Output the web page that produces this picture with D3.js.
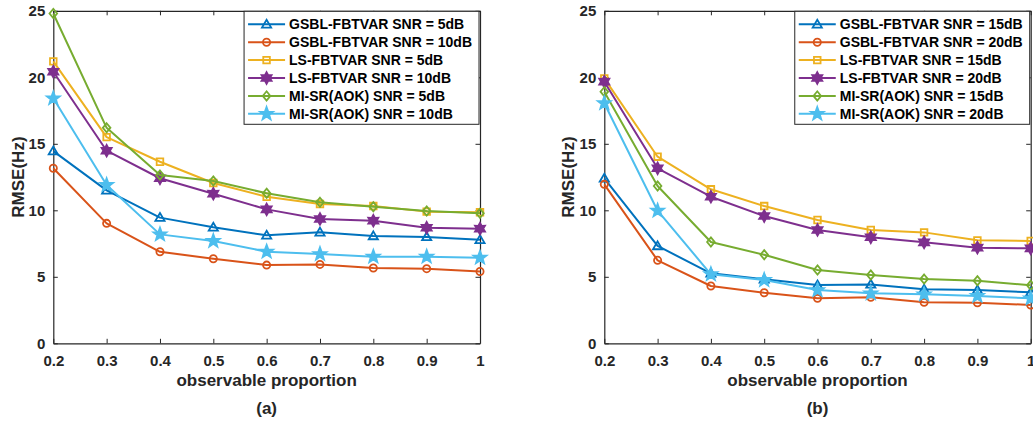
<!DOCTYPE html>
<html>
<head>
<meta charset="utf-8">
<script src="https://cdn.jsdelivr.net/npm/d3@7"></script>
<style>
  html, body { margin: 0; padding: 0; background: #fff; }
  svg { display: block; font-family: "Liberation Sans", Arial, Helvetica, sans-serif; font-weight: bold; }
</style>
</head>
<body>
<svg id="chart" width="1033" height="426"></svg>
<script>
// Observable proportion (x axis) and axis tick labels
const proportion = [0.2, 0.3, 0.4, 0.5, 0.6, 0.7, 0.8, 0.9, 1.0];
const xTickLabels = ["0.2", "0.3", "0.4", "0.5", "0.6", "0.7", "0.8", "0.9", "1"];
const yTickValues = [0, 5, 10, 15, 20, 25];

// Panel (a): low SNR
const namesA = [
  "GSBL-FBTVAR SNR = 5dB", "GSBL-FBTVAR SNR = 10dB",
  "LS-FBTVAR SNR = 5dB", "LS-FBTVAR SNR = 10dB",
  "MI-SR(AOK) SNR = 5dB", "MI-SR(AOK) SNR = 10dB"
];
const gsbl5  = [14.45, 11.5, 9.45, 8.72, 8.12, 8.35, 8.07, 8.0, 7.78];
const gsbl10 = [13.16, 9.02, 6.88, 6.36, 5.88, 5.93, 5.66, 5.61, 5.40];
const ls5    = [21.2, 15.5, 13.65, 12.05, 11.02, 10.47, 10.32, 9.9, 9.85];
const ls10   = [20.42, 14.48, 12.41, 11.25, 10.07, 9.35, 9.22, 8.69, 8.62];
const mi5    = [24.8, 16.2, 12.65, 12.2, 11.28, 10.6, 10.27, 9.95, 9.77];
const mi10   = [18.42, 11.9, 8.19, 7.69, 6.89, 6.71, 6.51, 6.51, 6.44];

// Panel (b): high SNR
const namesB = [
  "GSBL-FBTVAR SNR = 15dB", "GSBL-FBTVAR SNR = 20dB",
  "LS-FBTVAR SNR = 15dB", "LS-FBTVAR SNR = 20dB",
  "MI-SR(AOK) SNR = 15dB", "MI-SR(AOK) SNR = 20dB"
];
const gsbl15 = [12.4, 7.32, 5.26, 4.81, 4.38, 4.43, 4.06, 4.0, 3.83];
const gsbl20 = [11.95, 6.24, 4.31, 3.8, 3.38, 3.46, 3.08, 3.05, 2.88];
const ls15   = [19.92, 14.03, 11.58, 10.32, 9.27, 8.52, 8.34, 7.74, 7.69];
const ls20   = [19.67, 13.16, 11.02, 9.57, 8.52, 7.97, 7.59, 7.19, 7.14];
const mi15   = [18.92, 11.83, 7.62, 6.66, 5.51, 5.14, 4.83, 4.71, 4.36];
const mi20   = [18.05, 9.97, 5.19, 4.76, 4.0, 3.76, 3.68, 3.56, 3.38];

const colors = ["#0072BD", "#D95319", "#EDB120", "#7E2F8E", "#77AC30", "#4DBEEE"];
const markers = ["triangle", "circle", "square", "hexagram", "diamond", "pentagram"];
const ink = "#262626";

// Marker shapes as d3 symbol types (fixed pixel size)
function starType(points, outer, inner) {
  return {
    draw(ctx) {
      for (let i = 0; i < points * 2; i++) {
        const r = i % 2 === 0 ? outer : inner;
        const a = -Math.PI / 2 + i * Math.PI / points;
        const x = r * Math.cos(a), y = r * Math.sin(a);
        if (i === 0) ctx.moveTo(x, y); else ctx.lineTo(x, y);
      }
      ctx.closePath();
    }
  };
}
const symbolTypes = {
  triangle: { draw(ctx) { ctx.moveTo(0, -4.6); ctx.lineTo(4.6, 3.3); ctx.lineTo(-4.6, 3.3); ctx.closePath(); } },
  circle: { draw(ctx) { ctx.moveTo(3.6, 0); ctx.arc(0, 0, 3.6, 0, 2 * Math.PI); } },
  square: { draw(ctx) { ctx.rect(-3.3, -3.3, 6.6, 6.6); } },
  diamond: { draw(ctx) { ctx.moveTo(0, -4.6); ctx.lineTo(3.8, 0); ctx.lineTo(0, 4.6); ctx.lineTo(-3.8, 0); ctx.closePath(); } },
  hexagram: starType(6, 5.8, 3.3),
  pentagram: starType(5, 6.8, 2.8)
};
const filled = { hexagram: true, pentagram: true };

const svg = d3.select("#chart");
svg.append("rect").attr("width", 1033).attr("height", 426).attr("fill", "#fff");

function drawPanel(opts) {
  const { left, right, top, bottom, series, names, caption, ylabelX } = opts;
  const x = d3.scaleLinear().domain([0.2, 1]).range([left, right]);
  const y = d3.scaleLinear().domain([0, 25]).range([bottom, top]);
  const g = svg.append("g");
  const tickLen = 4.5;

  // axes with inward ticks on all four sides (box style)
  const fmtX = (d, i) => xTickLabels[i];
  g.append("g").attr("transform", `translate(0,${bottom})`)
    .call(d3.axisBottom(x).tickValues(proportion).tickFormat(fmtX).tickSizeInner(-tickLen).tickSizeOuter(0).tickPadding(12));
  g.append("g").attr("transform", `translate(0,${top})`)
    .call(d3.axisTop(x).tickValues(proportion).tickFormat("").tickSizeInner(-tickLen).tickSizeOuter(0));
  g.append("g").attr("transform", `translate(${left},0)`)
    .call(d3.axisLeft(y).tickValues(yTickValues).tickFormat(d3.format("d")).tickSizeInner(-tickLen).tickSizeOuter(0).tickPadding(8));
  g.append("g").attr("transform", `translate(${right},0)`)
    .call(d3.axisRight(y).tickValues(yTickValues).tickFormat("").tickSizeInner(-tickLen).tickSizeOuter(0));
  g.selectAll(".domain").attr("stroke", ink).attr("stroke-width", 1.2);
  g.selectAll(".tick line").attr("stroke", ink).attr("stroke-width", 1);
  g.selectAll(".tick text").attr("fill", ink).style("font-size", "15px").style("font-weight", "bold")
    .style("font-family", '"Liberation Sans", Arial, sans-serif');

  // axis titles and caption
  g.append("text").attr("x", (left + right) / 2).attr("y", 386).attr("text-anchor", "middle")
    .attr("fill", ink).style("font-size", "17px").text("observable proportion");
  g.append("text").attr("transform", `translate(${ylabelX},${(top + bottom) / 2}) rotate(-90)`)
    .attr("text-anchor", "middle").attr("fill", ink).style("font-size", "17px").text("RMSE(Hz)");
  g.append("text").attr("x", (left + right) / 2).attr("y", 414).attr("text-anchor", "middle")
    .attr("fill", ink).style("font-size", "17px").text(caption);

  // series lines and markers
  const line = d3.line().x((d, i) => x(proportion[i])).y(d => y(d));
  series.forEach((vals, k) => {
    g.append("path").datum(vals).attr("d", line).attr("fill", "none")
      .attr("stroke", colors[k]).attr("stroke-width", 2).attr("stroke-linejoin", "round");
    const sym = d3.symbol().type(symbolTypes[markers[k]]);
    g.selectAll(null).data(vals).enter().append("path")
      .attr("d", sym)
      .attr("transform", (d, i) => `translate(${x(proportion[i])},${y(d)})`)
      .attr("fill", filled[markers[k]] ? colors[k] : "none")
      .attr("stroke", colors[k]).attr("stroke-width", 1.8).attr("stroke-linejoin", "miter");
  });

  // legend in the upper-right corner
  const lg = g.append("g");
  const rowH = 17.9, textX = 45, lineX0 = 4, lineX1 = 41;
  const texts = names.map((n, k) => lg.append("text").attr("x", textX).attr("y", 13 + k * rowH)
    .attr("dy", "0.35em").attr("fill", "#000").style("font-size", "14px").text(n));
  const maxW = d3.max(texts, t => t.node().getComputedTextLength());
  const boxW = textX + maxW + 7;
  const boxH = 113;
  lg.insert("rect", ":first-child").attr("x", 0).attr("y", 0).attr("width", boxW).attr("height", boxH)
    .attr("fill", "#fff").attr("stroke", ink).attr("stroke-width", 1);
  names.forEach((n, k) => {
    const cy = 13 + k * rowH;
    lg.append("line").attr("x1", lineX0).attr("x2", lineX1).attr("y1", cy).attr("y2", cy)
      .attr("stroke", colors[k]).attr("stroke-width", 2);
    lg.append("path").attr("d", d3.symbol().type(symbolTypes[markers[k]]))
      .attr("transform", `translate(${(lineX0 + lineX1) / 2},${cy})`)
      .attr("fill", filled[markers[k]] ? colors[k] : "none")
      .attr("stroke", colors[k]).attr("stroke-width", 1.8);
  });
  lg.attr("transform", `translate(${right - 1 - boxW},${top + 0.5})`);
}

drawPanel({
  left: 53.3, right: 480, top: 10.8, bottom: 343.3,
  series: [gsbl5, gsbl10, ls5, ls10, mi5, mi10], names: namesA, caption: "(a)", ylabelX: 24
});
drawPanel({
  left: 604.3, right: 1030.7, top: 10.8, bottom: 343.3,
  series: [gsbl15, gsbl20, ls15, ls20, mi15, mi20], names: namesB, caption: "(b)", ylabelX: 574
});
</script>
</body>
</html>
